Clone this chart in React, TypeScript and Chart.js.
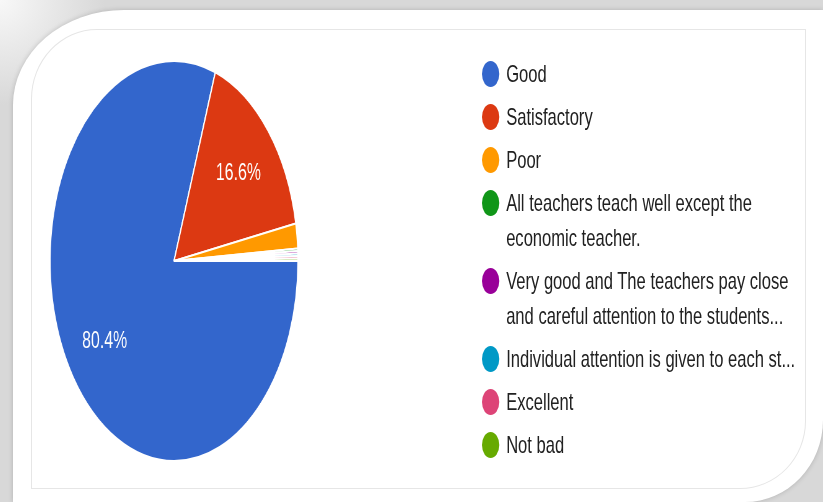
import React, { useEffect, useRef } from "react";
import { Chart, registerables } from "chart.js";

Chart.register(...registerables);

// ---- data ----
const labels = [
  "Good",
  "Satisfactory",
  "Poor",
  "All teachers teach well except the economic teacher.",
  "Very good and The teachers pay close and careful attention to the students...",
  "Individual attention is given to each st...",
  "Excellent",
  "Not bad",
];
const responses = [402, 83, 10, 1, 1, 1, 1, 1];
const sliceColors = [
  "#3366CC",
  "#DC3912",
  "#FF9900",
  "#109618",
  "#990099",
  "#0099C6",
  "#DD4477",
  "#66AA00",
];

// ---- layout ----
const PIE_SCALE_X = 0.62;
const TEXT_SCALE_X = 0.69;
const CANVAS_SIZE = 430;
const FONT = "'Liberation Sans', Arial, Helvetica, sans-serif";

const percentLabels = {
  id: "percentLabels",
  afterDatasetsDraw(chart: any) {
    const ctx = chart.ctx;
    const meta = chart.getDatasetMeta(0);
    const data = chart.data.datasets[0].data as number[];
    const total = data.reduce((a: number, b: number) => a + b, 0);
    meta.data.forEach((arc: any, i: number) => {
      const pct = (data[i] / total) * 100;
      if (pct < 5) return;
      const { x, y, startAngle, endAngle, outerRadius } = arc.getProps(
        ["x", "y", "startAngle", "endAngle", "outerRadius"],
        true
      );
      const mid = (startAngle + endAngle) / 2;
      const r = outerRadius * 0.685;
      const px = x + Math.cos(mid) * r;
      const py = y + Math.sin(mid) * r;
      const size = 23;
      ctx.save();
      ctx.translate(px, py);
      ctx.scale(TEXT_SCALE_X / PIE_SCALE_X, 1);
      ctx.font = `${size}px ${FONT}`;
      ctx.fillStyle = "#ffffff";
      ctx.textAlign = "center";
      ctx.textBaseline = "alphabetic";
      ctx.fillText(pct.toFixed(1) + "%", 0, (size * 0.716) / 2);
      ctx.restore();
    });
  },
};

function PieCanvas() {
  const ref = useRef<HTMLCanvasElement | null>(null);
  useEffect(() => {
    if (!ref.current) return;
    const chart = new Chart(ref.current, {
      type: "pie",
      data: {
        labels,
        datasets: [
          {
            data: responses,
            backgroundColor: sliceColors,
            borderColor: "#ffffff",
            borderWidth: 2,
            hoverOffset: 0,
          },
        ],
      },
      options: {
        responsive: false,
        animation: false,
        rotation: 90,
        radius: 200,
        events: [],
        layout: { padding: 0 },
        plugins: {
          legend: { display: false },
          tooltip: { enabled: false },
        },
      } as any,
      plugins: [percentLabels as any],
    });
    return () => chart.destroy();
  }, []);
  return (
    <canvas
      ref={ref}
      width={CANVAS_SIZE}
      height={CANVAS_SIZE}
      style={{ width: CANVAS_SIZE, height: CANVAS_SIZE, display: "block" }}
    />
  );
}

function Legend() {
  return (
    <div
      style={{
        position: "absolute",
        left: 482,
        top: 56,
        width: 480,
        transform: `scaleX(${TEXT_SCALE_X})`,
        transformOrigin: "0 0",
        fontFamily: FONT,
        fontSize: 24,
        lineHeight: "35px",
        color: "#212121",
      }}
    >
      {labels.map((label, i) => (
        <div
          key={label}
          style={{ display: "flex", alignItems: "flex-start", marginBottom: 8 }}
        >
          <div
            style={{
              width: 25,
              height: 26,
              borderRadius: "50%",
              background: sliceColors[i],
              marginTop: 4.5,
              flex: "0 0 auto",
            }}
          />
          <div style={{ marginLeft: 10, width: 430 }}>{label}</div>
        </div>
      ))}
    </div>
  );
}

export default function App() {
  return (
    <div
      style={{
        position: "fixed",
        left: 0,
        top: 0,
        width: 823,
        height: 502,
        overflow: "hidden",
        background:
          "radial-gradient(circle at 0 0, #f8f8f8 0px, #d8d8d8 105px)",
      }}
    >
      <div
        style={{
          position: "absolute",
          left: 13,
          top: 10,
          width: 810,
          height: 492,
          background: "#ffffff",
          borderTopLeftRadius: "111px 95px",
          borderBottomRightRadius: "78px 82px",
          boxShadow: "0 0 5px rgba(0,0,0,0.18)",
        }}
      />
      <div
        style={{
          position: "absolute",
          left: 31,
          top: 29,
          width: 775,
          height: 460,
          boxSizing: "border-box",
          border: "1px solid #e6e6e6",
          borderTopLeftRadius: "66px 70px",
          borderBottomRightRadius: "66px 68px",
        }}
      />
      <div
        style={{
          position: "absolute",
          left: 174 - CANVAS_SIZE / 2,
          top: 261 - CANVAS_SIZE / 2,
          width: CANVAS_SIZE,
          height: CANVAS_SIZE,
          transform: `scaleX(${PIE_SCALE_X})`,
          transformOrigin: "50% 50%",
        }}
      >
        <PieCanvas />
      </div>
      <Legend />
    </div>
  );
}
